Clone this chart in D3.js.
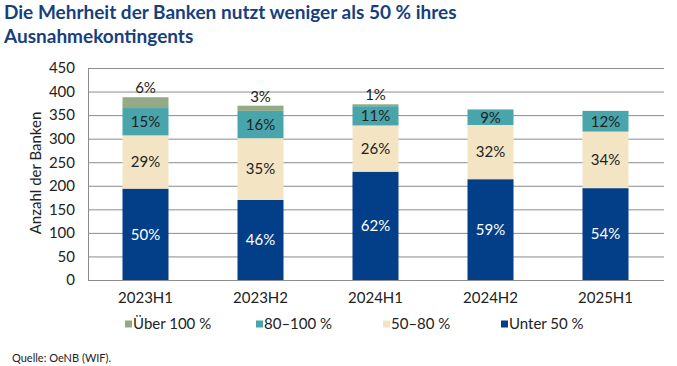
<!DOCTYPE html>
<html>
<head>
<meta charset="utf-8">
<script src="https://cdn.jsdelivr.net/npm/d3@7"></script>
<style>
  html, body { margin: 0; padding: 0; background: #fff; }
  svg { display: block; font-family: Lato, "Open Sans", sans-serif; }
</style>
</head>
<body>
<svg id="chart" width="677" height="366"></svg>
<script>
// ---- Data ----
const categories = ["2023H1", "2023H2", "2024H1", "2024H2", "2025H1"];
const seriesNames = ["Unter 50 %", "50–80 %", "80–100 %", "Über 100 %"];
const unter50   = [194, 170, 230, 214, 195];
const s50_80    = [113, 131, 98, 115, 120];
const s80_100   = [58, 58, 41, 33, 44];
const ueber100  = [23, 11, 4, 0, 0];
const pctUnter50  = ["50%", "46%", "62%", "59%", "54%"];
const pct50_80    = ["29%", "35%", "26%", "32%", "34%"];
const pct80_100   = ["15%", "16%", "11%", "9%", "12%"];
const pctUeber100 = ["6%", "3%", "1%", "", ""];
const yTicks = [0, 50, 100, 150, 200, 250, 300, 350, 400, 450];
const legendOrder = ["Über 100 %", "80–100 %", "50–80 %", "Unter 50 %"];

const colors = {
  "Unter 50 %": "#033f88",
  "50–80 %": "#f3e5c3",
  "80–100 %": "#48a5ac",
  "Über 100 %": "#93aa85"
};
const labelColors = {
  "Unter 50 %": "#ffffff",
  "50–80 %": "#222222",
  "80–100 %": "#222222",
  "Über 100 %": "#222222"
};

const seriesValues = [unter50, s50_80, s80_100, ueber100];
const seriesLabels = [pctUnter50, pct50_80, pct80_100, pctUeber100];

const rows = categories.map((c, i) => {
  const r = { cat: c };
  seriesNames.forEach((s, k) => r[s] = seriesValues[k][i]);
  return r;
});

const svg = d3.select("#chart");

// Title
const title = svg.append("text")
  .attr("x", 4).attr("y", 19)
  .attr("fill", "#173f7d")
  .attr("font-weight", "bold")
  .attr("font-size", 19);
title.append("tspan").attr("x", 4).attr("y", 19).text("Die Mehrheit der Banken nutzt weniger als 50 % ihres");
title.append("tspan").attr("x", 4).attr("y", 43).text("Ausnahmekontingents");

// Scales
const x = d3.scaleBand().domain(categories).range([88, 663]).paddingInner(0.6).paddingOuter(0.3);
const y = d3.scaleLinear().domain([0, 450]).range([280, 68]);

// Gridlines + y axis
const yAxis = d3.axisLeft(y).tickValues(yTicks).tickSize(-(664 - 88)).tickPadding(13);
const gy = svg.append("g").attr("transform", "translate(88,0)").call(yAxis);
gy.select(".domain").attr("stroke", "#8c8c8c");
gy.selectAll(".tick line").attr("stroke", "#8c8c8c").attr("stroke-width", 1);
gy.selectAll(".tick text").attr("font-size", 15).attr("fill", "#222").attr("font-family", "Lato, sans-serif");

// x axis
const xAxis = d3.axisBottom(x).tickSize(0).tickPadding(12);
const gx = svg.append("g").attr("transform", "translate(0,280)").call(xAxis);
gx.select(".domain").attr("stroke", "#8c8c8c").attr("d", "M88,0.5H664");
gx.selectAll(".tick text").attr("font-size", 15).attr("fill", "#222").attr("font-family", "Lato, sans-serif");

// Y axis title
svg.append("text")
  .attr("transform", "translate(41,173) rotate(-90)")
  .attr("text-anchor", "middle")
  .attr("font-size", 15)
  .attr("fill", "#222")
  .text("Anzahl der Banken");

// Stacked bars
const stack = d3.stack().keys(seriesNames);
const stacked = stack(rows);

const layers = svg.append("g").selectAll("g")
  .data(stacked).join("g")
  .attr("fill", d => colors[d.key]);

layers.selectAll("rect")
  .data(d => d.map(p => ({ p, key: d.key })))
  .join("rect")
  .attr("x", d => x(d.p.data.cat))
  .attr("width", x.bandwidth())
  .attr("y", d => y(d.p[1]))
  .attr("height", d => Math.max(0, y(d.p[0]) - y(d.p[1])));

// Labels
stacked.forEach((layer, k) => {
  const key = layer.key;
  const labels = seriesLabels[k];
  layer.forEach((p, i) => {
    const txt = labels[i];
    if (!txt) return;
    const cx = x(p.data.cat) + x.bandwidth() / 2;
    let cy;
    if (key === "Über 100 %") {
      cy = y(p[1]) - 4;
      svg.append("text").attr("x", cx).attr("y", cy)
        .attr("text-anchor", "middle").attr("font-size", 15)
        .attr("fill", "#222").text(txt);
    } else {
      cy = (y(p[0]) + y(p[1])) / 2;
      svg.append("text").attr("x", cx).attr("y", cy)
        .attr("dy", "0.36em")
        .attr("text-anchor", "middle").attr("font-size", 15)
        .attr("fill", labelColors[key]).text(txt);
    }
  });
});

// Legend
const legendX = [125, 256, 383, 501];
const lg = svg.append("g");
legendOrder.forEach((s, i) => {
  lg.append("rect").attr("x", legendX[i]).attr("y", 320.5).attr("width", 7).attr("height", 7)
    .attr("fill", colors[s]);
  lg.append("text").attr("x", legendX[i] + 8).attr("y", 324).attr("dy", "0.36em")
    .attr("font-size", 15).attr("fill", "#222").text(s);
});

// Source
svg.append("text").attr("x", 12).attr("y", 358).attr("dy", "0.36em")
  .attr("font-size", 11).attr("fill", "#222").text("Quelle: OeNB (WIF).");
</script>
</body>
</html>
